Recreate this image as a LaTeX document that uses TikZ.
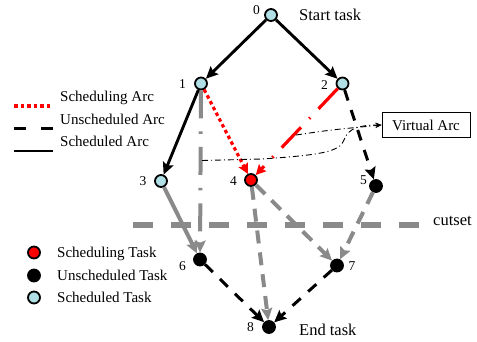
\documentclass[tikz,border=0pt]{standalone}
\usepackage{fontspec}
\setmainfont{Liberation Serif}
\usetikzlibrary{arrows.meta}

\definecolor{donecol}{RGB}{176,224,230}
\definecolor{arcgray}{RGB}{138,138,138}

\begin{document}
\begin{tikzpicture}[x=1pt, y=-1pt,
    task/.style = {draw, circle, line width=1.8pt, minimum size=12pt, inner sep=0pt},
    done/.style = {task, fill=donecol},
    busy/.style = {task, fill=red},
    todo/.style = {task, fill=black},
    num/.style = {font=\fontsize{13.5}{14}\selectfont, inner sep=0pt},
    txt/.style = {font=\fontsize{16.5}{18}\selectfont, inner sep=0pt, anchor=base west},
    leg/.style = {font=\fontsize{15}{17}\selectfont, inner sep=0pt, anchor=base west},
    arr/.style = {-{Stealth[length=12pt,width=11pt,inset=2pt]}},
    solidarc/.style = {line width=2.9pt},
    dasharc/.style = {line width=3pt, dash pattern=on 11pt off 10pt},
    dotarc/.style = {red, line width=3.2pt, dash pattern=on 3.5pt off 3pt},
    redchain/.style = {red, line width=3.2pt, dash pattern=on 28pt off 12pt on 1.5pt off 12pt},
    grayarc/.style = {arcgray, line width=4pt, dash pattern=on 13pt off 9pt},
    graychain/.style = {arcgray, line width=4pt, dash pattern=on 28pt off 13pt on 2.5pt off 13pt},
    graysolid/.style = {arcgray, line width=4pt},
    virtual/.style = {line width=0.9pt, dash pattern=on 6pt off 3pt on 1pt off 3pt, -{Stealth[length=6pt,width=5pt]}},
    cut/.style = {arcgray, line width=5.5pt, dash pattern=on 20pt off 18pt}]
    \useasboundingbox (0,0) rectangle (477,341);

    % cutset
    \coordinate (c1) at (133,225);
    \coordinate (c2) at (422,225);
    \draw[cut] (c1) -- (c2);
    \node[txt] (cutset) at (433,225) {cutset};

    % tasks
    \node[done] (0) at (271,15) {};
    \node[done] (1) at (201,83.5) {};
    \node[done] (2) at (342.5,83.5) {};
    \node[done] (3) at (161,181) {};
    \node[busy] (4) at (251,180) {};
    \node[todo] (5) at (376,186) {};
    \node[todo] (6) at (200,259.5) {};
    \node[todo] (7) at (337,265.5) {};
    \node[todo] (8) at (269,327) {};

    \node[num] (n0) at (256.5,10) {0};
    \node[num] (n1) at (182.5,84) {1};
    \node[num] (n2) at (324.5,85) {2};
    \node[num] (n3) at (143,181.5) {3};
    \node[num] (n4) at (233.5,181.5) {4};
    \node[num] (n5) at (363.5,180.5) {5};
    \node[num] (n6) at (182.5,266) {6};
    \node[num] (n7) at (352,266) {7};
    \node[num] (n8) at (250.5,327) {8};

    \node[txt] (start) at (299,20) {Start task};
    \node[txt] (end) at (299,335.5) {End task};

    % arcs
    \draw[graychain, arr] (1) -- (6);
    \draw[graysolid, arr] (3) -- (6);
    \draw[grayarc, arr] (4) -- (7);
    \draw[grayarc, arr] (4) -- (8);
    \draw[grayarc, arr] (5) -- (7);
    \draw[solidarc, arr] (0) -- (1);
    \draw[solidarc, arr] (0) -- (2);
    \draw[solidarc, arr] (1) -- (3);
    \draw[dasharc, arr] (2) -- (5);
    \draw[dasharc, arr] (6) -- (8);
    \draw[dasharc, arr] (7) -- (8);
    \draw[dotarc, -{Stealth[length=10pt,width=10pt,inset=1.5pt]}] (1) -- (4);
    \draw[redchain, -{Stealth[length=10pt,width=10pt,inset=1.5pt]}] (2) -- (4);

    % virtual arcs
    \node[draw, line width=0.9pt, minimum width=88pt, minimum height=25pt, inner sep=0pt,
        font=\fontsize{15}{17}\selectfont] (box) at (426,125) {Virtual Arc};
    \coordinate (va) at (202,160.5);
    \coordinate (vb) at (296,135);
    \draw[virtual] (va) -- (262,159) .. controls (320,155) and (340,152) .. (344,140)
        .. controls (348,128) and (360,125) .. (box.west);
    \draw[virtual] (vb) .. controls (330,130) .. (box.west);

    % legend
    \node[leg] (l1) at (60,101.5) {Scheduling Arc};
    \node[leg] (l2) at (60,124) {Unscheduled Arc};
    \node[leg] (l3) at (60,146.5) {Scheduled Arc};
    \draw[dotarc] ([xshift=-46pt,yshift=-4.5pt]l1.base west) -- ([xshift=-7pt,yshift=-4.5pt]l1.base west);
    \draw[line width=3pt, dash pattern=on 12pt off 15pt] ([xshift=-46pt,yshift=-4.5pt]l2.base west) -- ([xshift=-7pt,yshift=-4.5pt]l2.base west);
    \draw[solidarc] ([xshift=-46pt,yshift=-4.5pt]l3.base west) -- ([xshift=-7pt,yshift=-4.5pt]l3.base west);

    \node[leg] (t1) at (57,257.5) {Scheduling Task};
    \node[leg] (t2) at (57,280.5) {Unscheduled Task};
    \node[leg] (t3) at (57,302.5) {Scheduled Task};
    \node[busy] (k1) at (34,252.5) {};
    \node[todo] (k2) at (34,275.5) {};
    \node[done] (k3) at (34,297.5) {};
\end{tikzpicture}
\end{document}
